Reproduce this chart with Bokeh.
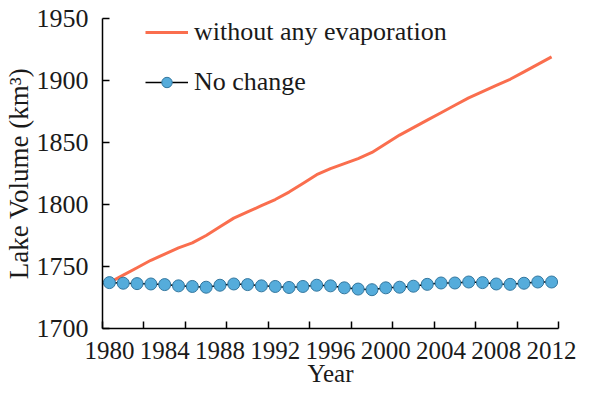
from bokeh.plotting import figure
from bokeh.models import Range1d, FixedTicker, Legend, LegendItem
from bokeh.embed import file_html
from bokeh.resources import INLINE

years = list(range(1980, 2013))
no_evaporation = [1737, 1743, 1749, 1755, 1760, 1765, 1769, 1775, 1782, 1789,
                  1794, 1799, 1804, 1810, 1817, 1824, 1829, 1833, 1837, 1842,
                  1849, 1856, 1862, 1868, 1874, 1880, 1886, 1891, 1896, 1901,
                  1907, 1913, 1919]
no_change = [1737.0, 1736.5, 1736.2, 1735.9, 1735.4, 1734.4, 1733.9, 1733.3, 1734.9, 1735.9,
             1735.4, 1734.4, 1733.9, 1733.1, 1733.9, 1734.9, 1734.4, 1732.8, 1731.8, 1731.3,
             1732.8, 1733.3, 1734.1, 1735.6, 1736.7, 1736.7, 1737.5, 1737.0, 1735.9, 1735.6,
             1736.5, 1737.5, 1737.5]
y_ticks = [1700, 1750, 1800, 1850, 1900, 1950]
x_label_ticks = [1980, 1984, 1988, 1992, 1996, 2000, 2004, 2008, 2012]
x_mark_ticks = [1979.5 + 3 * i for i in range(12)]

FONT = "Liberation Serif"
TXT = "#1a1a1a"

p = figure(width=576, height=389, output_backend="svg", toolbar_location=None,
           x_range=Range1d(1979.5, 2012.5), y_range=Range1d(1700, 1950),
           min_border_left=98, min_border_right=18, min_border_top=18,
           min_border_bottom=10)
p.grid.visible = False
p.outline_line_color = None
p.background_fill_color = "white"
p.border_fill_color = "white"

# axes
xa = p.xaxis[0]
xa.ticker = FixedTicker(ticks=x_label_ticks, minor_ticks=x_mark_ticks)
xa.major_tick_line_color = None
xa.minor_tick_line_color = "black"
xa.minor_tick_line_width = 1.5
xa.minor_tick_in = 7
xa.minor_tick_out = 0
xa.axis_line_color = "black"
xa.axis_line_width = 1.5
xa.major_label_text_font = FONT
xa.major_label_text_font_size = "25px"
xa.major_label_text_color = TXT
xa.major_label_standoff = 7
xa.axis_label = "Year"
xa.axis_label_text_font = FONT
xa.axis_label_text_font_size = "25px"
xa.axis_label_text_font_style = "normal"
xa.axis_label_text_color = TXT
xa.axis_label_standoff = -2

ya = p.yaxis[0]
ya.ticker = FixedTicker(ticks=y_ticks)
ya.major_tick_line_color = "black"
ya.major_tick_line_width = 1.5
ya.major_tick_in = 7
ya.major_tick_out = 0
ya.minor_tick_line_color = None
ya.axis_line_color = "black"
ya.axis_line_width = 1.5
ya.major_label_text_font = FONT
ya.major_label_text_font_size = "26px"
ya.major_label_text_color = TXT
ya.major_label_standoff = 14
ya.axis_label = "Lake Volume (km³)"
ya.axis_label_text_font = FONT
ya.axis_label_text_font_size = "27px"
ya.axis_label_text_font_style = "normal"
ya.axis_label_text_color = TXT
ya.axis_label_standoff = 0

r_orange = p.line(years, no_evaporation, line_color="#FA6E4E", line_width=3)
r_line = p.line(years, no_change, line_color="black", line_width=1.5)
r_pts = p.scatter(years, no_change, size=12, fill_color="#55ACDB",
                  line_color="#33779F", line_width=1)

legend = Legend(items=[LegendItem(label="without any evaporation", renderers=[r_orange]),
                       LegendItem(label="No change", renderers=[r_line, r_pts])],
                location=(43, 231), orientation="vertical",
                border_line_color=None, background_fill_alpha=0,
                padding=0, margin=0, spacing=20,
                glyph_width=43, glyph_height=26, label_height=26,
                label_standoff=6,
                label_text_font=FONT, label_text_font_size="26px",
                label_text_color=TXT)
p.add_layout(legend, "center")

open("out.html", "w").write(file_html(p, INLINE))
